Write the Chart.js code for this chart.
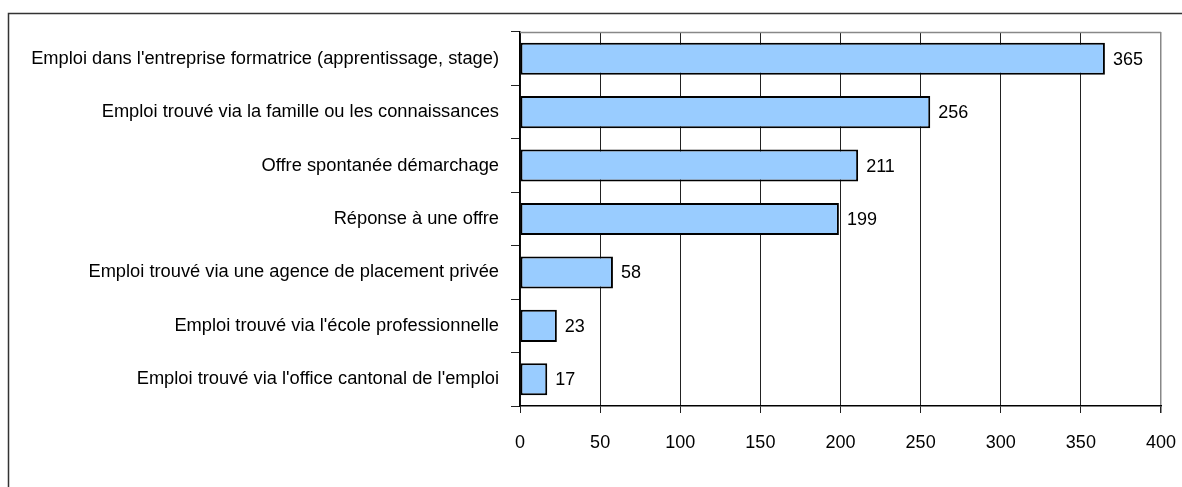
<!DOCTYPE html>
<html>
<head>
<meta charset="utf-8">
<script src="https://cdn.jsdelivr.net/npm/chart.js@4"></script>
<style>
  html, body { margin: 0; padding: 0; background: #fff; }
  #wrap { width: 1182px; height: 487px; position: relative; }
</style>
</head>
<body>
<div id="wrap"><canvas id="modeChart" width="1182" height="487"></canvas></div>
<script>
// Data for the chart
const categories = [
    "Emploi dans l'entreprise formatrice (apprentissage, stage)",
    'Emploi trouvé via la famille ou les connaissances',
    'Offre spontanée démarchage',
    'Réponse à une offre',
    'Emploi trouvé via une agence de placement privée',
    "Emploi trouvé via l'école professionnelle",
    "Emploi trouvé via l'office cantonal de l'emploi"
];
const counts = [365, 256, 211, 199, 58, 23, 17];
const xTicks = [0, 50, 100, 150, 200, 250, 300, 350, 400];

const FONT = '"Liberation Sans", Arial, sans-serif';

// frame round the picture + grey top edge of the plot
const framePlugin = {
    id: 'frame',
    beforeDraw(chart) {
        const c = chart.ctx;
        c.save();
        c.strokeStyle = '#333';
        c.lineWidth = 1.5;
        c.beginPath();
        c.moveTo(8.5, chart.height);
        c.lineTo(8.5, 13.5);
        c.lineTo(chart.width, 13.5);
        c.stroke();
        c.restore();
    },
    afterDraw(chart) {
        const a = chart.chartArea;
        const c = chart.ctx;
        c.save();
        c.strokeStyle = '#888';
        c.lineWidth = 1.5;
        c.beginPath();
        c.moveTo(a.left, a.top + 0.5);
        c.lineTo(a.right, a.top + 0.5);
        c.stroke();
        c.restore();
    }
};

// value next to each bar
const valuePlugin = {
    id: 'values',
    afterDatasetsDraw(chart) {
        const c = chart.ctx;
        const meta = chart.getDatasetMeta(0);
        c.save();
        c.fillStyle = '#000';
        c.font = '18px ' + FONT;
        c.textAlign = 'left';
        c.textBaseline = 'middle';
        meta.data.forEach(function (bar, i) {
            c.fillText(String(counts[i]), bar.x + 8, bar.y + 1);
        });
        c.restore();
    }
};

const ctx = document.getElementById('modeChart').getContext('2d');
new Chart(ctx, {
    type: 'bar',
    data: {
        labels: categories,
        datasets: [{
            data: counts,
            backgroundColor: '#99CCFF',
            borderColor: '#000',
            borderWidth: 2,
            borderSkipped: false,
            categoryPercentage: 0.6,
            barPercentage: 1
        }]
    },
    options: {
        indexAxis: 'y',
        responsive: false,
        animation: false,
        layout: { padding: { left: 0, top: 32, right: 21, bottom: 0 } },
        plugins: { legend: { display: false }, tooltip: { enabled: false } },
        scales: {
            x: {
                min: 0,
                max: 400,
                afterBuildTicks(scale) {
                    scale.ticks = xTicks.map(v => ({ value: v }));
                },
                afterFit(scale) {
                    scale.height = 81;
                    scale.paddingLeft = 0;
                    scale.paddingRight = 0;
                },
                grid: {
                    color: c => (c.tick && c.tick.value === 400 ? '#888' : '#222'),
                    lineWidth: c => (c.tick && c.tick.value === 400 ? 1.5 : 1),
                    tickLength: 7,
                    tickColor: '#222'
                },
                border: { color: '#000', width: 1.5 },
                ticks: {
                    color: '#000',
                    padding: 19,
                    font: { family: FONT, size: 18 },
                    maxRotation: 0
                }
            },
            y: {
                afterFit(scale) {
                    scale.width = 520;
                    scale.paddingTop = 0;
                    scale.paddingBottom = 0;
                },
                grid: {
                    offset: true,
                    drawOnChartArea: false,
                    tickLength: 9,
                    color: '#222'
                },
                border: { color: '#000', width: 1.5 },
                ticks: {
                    color: '#000',
                    padding: 12,
                    font: { family: FONT, size: 18.3 }
                }
            }
        }
    },
    plugins: [framePlugin, valuePlugin]
});
</script>
</body>
</html>
